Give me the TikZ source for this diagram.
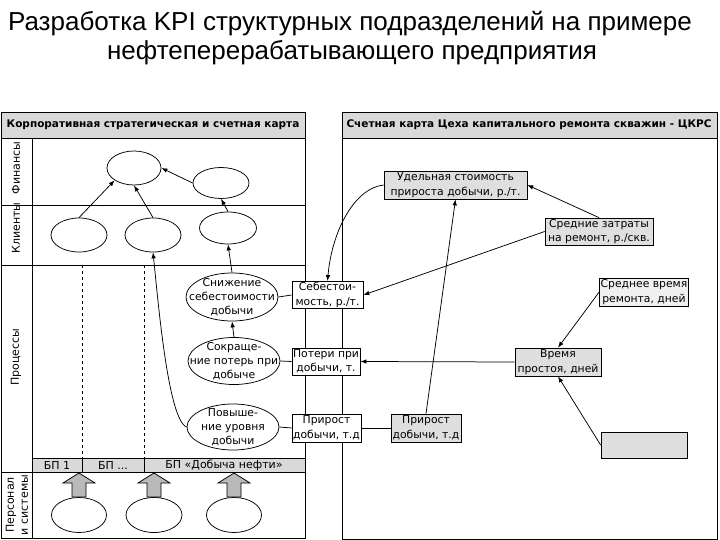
\documentclass[tikz,border=0pt]{standalone}
\usepackage{fontspec}
\usepackage{tikz}
\usetikzlibrary{shapes.geometric,arrows.meta}
\newfontfamily\titlefont{Liberation Sans}
\newfontfamily\kpifont{DejaVu Sans}

\begin{document}
\begin{tikzpicture} [
    x=1pt, y=-1pt, line width=0.75pt,
    >={Latex[length=6pt,width=4.5pt]},
    oval/.style={ellipse, draw, fill=white, inner sep=0pt, align=center, font=\kpifont\fontsize{10.8}{14}\selectfont},
    ovaltext/.style={oval, inner xsep=-12pt, inner ysep=-3pt},
    kpi/.style={rectangle, draw, fill=gray!25, inner sep=1pt, align=center, font=\kpifont\fontsize{10.8}{14.5}\selectfont},
    kpiw/.style={kpi, fill=white},
    band/.style={draw, fill=gray!30},
    header/.style={font=\kpifont\bfseries\fontsize{10.5}{12}\selectfont},
    rowlabel/.style={rotate=90, align=center, font=\kpifont\fontsize{11}{14}\selectfont},
    bp/.style={font=\kpifont\fontsize{11}{12}\selectfont}
]
\useasboundingbox (0,0) rectangle (720,540);

% Title
\node[font=\titlefont\fontsize{26}{30}\selectfont, anchor=base] (title) at (350,31) {Разработка KPI структурных подразделений на примере};
\node[font=\titlefont\fontsize{26}{30}\selectfont, anchor=base] (subtitle) at (352,60) {нефтеперерабатывающего предприятия};

% Panels
\draw (1,112) rectangle (305,538);
\draw[band] (1,112) rectangle (305,138);
\node[header] (corphead) at (153,125) {Корпоративная стратегическая и счетная карта};
\draw (342,112) rectangle (717,539);
\draw[band] (342,112) rectangle (717,138);
\node[header] (ckrshead) at (529,125) {Счетная карта Цеха капитального ремонта скважин - ЦКРС};

% Rows
\draw (32,138) -- (32,538);
\draw (1,205) -- (305,205);
\draw (1,265) -- (305,265);
\draw[dashed, line width=0.5pt] (82,265) -- (82,458);
\draw[dashed, line width=0.5pt] (144,265) -- (144,458);
\draw[band] (32,458) rectangle (305,472);
\draw (82,458) -- (82,472);
\draw (144,458) -- (144,472);
\draw (1,472) -- (305,472);
\node[rowlabel] (finlabel) at (16,168) {Финансы};
\node[rowlabel] (clilabel) at (16,228) {Клиенты};
\node[rowlabel] (proclabel) at (16,357) {Процессы};
\node[rowlabel] (perslabel) at (17,505) {Персонал\\и системы};
\node[bp] (bp1) at (57,465) {БП 1};
\node[bp] (bpdots) at (113,465) {БП ...};
\node[bp] (bpoil) at (224,465) {БП «Добыча нефти»};

% Corporate map
\node[oval, minimum width=54pt, minimum height=34pt] (fin1) at (134,168) {};
\node[oval, minimum width=56pt, minimum height=31pt] (fin2) at (221,183) {};
\node[oval, minimum width=56pt, minimum height=34pt] (cli1) at (79,235) {};
\node[oval, minimum width=56pt, minimum height=34pt] (cli2) at (153,235) {};
\node[oval, minimum width=57pt, minimum height=32pt] (cli3) at (228,228) {};
\node[ovaltext, minimum width=92pt, minimum height=48pt] (snizh) at (232,297) {Снижение\\себестоимости\\добычи};
\node[ovaltext, minimum width=92pt, minimum height=47pt] (sokr) at (234,361) {Сокраще-\\ние потерь при\\добыче};
\node[ovaltext, minimum width=92pt, minimum height=46pt] (povysh) at (233,427) {Повыше-\\ние уровня\\добычи};
\node[oval, minimum width=55pt, minimum height=35pt] (pers1) at (79,515) {};
\node[oval, minimum width=56pt, minimum height=35pt] (pers2) at (154,515) {};
\node[oval, minimum width=55pt, minimum height=35pt] (pers3) at (234,515) {};

% Support arrows
\draw[fill=gray!55] (72,497) -- (72,483) -- (63,483) -- (79,473) -- (95,483) -- (86,483) -- (86,497) -- cycle;
\draw[fill=gray!55] (147,497) -- (147,483) -- (138,483) -- (154,473) -- (170,483) -- (161,483) -- (161,497) -- cycle;
\draw[fill=gray!55] (227,497) -- (227,483) -- (218,483) -- (234,473) -- (250,483) -- (241,483) -- (241,497) -- cycle;

% Indicators
\node[kpiw, minimum width=71pt, minimum height=26pt] (sebest) at (327.5,295) {Себестои-\\мость, р./т.};
\node[kpiw, minimum width=68pt, minimum height=27pt] (poteri) at (326,361.5) {Потери при\\добычи, т.};
\node[kpiw, minimum width=69pt, minimum height=28pt] (prirost1) at (326.5,428) {Прирост\\добычи, т.д};
\node[kpi, minimum width=70pt, minimum height=28pt] (prirost2) at (426,428) {Прирост\\добычи, т.д};
\node[kpi, minimum width=143pt, minimum height=28pt] (udel) at (455.5,185) {Удельная стоимость\\прироста добычи, р./т.};
\node[kpi, minimum width=108pt, minimum height=27pt] (sredzat) at (599,231.5) {Средние затраты\\на ремонт, р./скв.};
\node[kpi, fill=gray!12, minimum width=86pt, minimum height=28pt] (sredvr) at (644,292) {Среднее время\\ремонта, дней};
\node[kpi, minimum width=86pt, minimum height=28pt] (vremya) at (558,362) {Время\\простоя, дней};
\node[kpi, minimum width=86pt, minimum height=26pt] (blank) at (644,445) {};

% Connections
\draw[->] (cli1.north) -- (fin1.south west);
\draw[->] (cli2.north) -- (fin1.south);
\draw[->] (fin2.west) -- (fin1.east);
\draw[->] (cli3.north) -- (fin2.south);
\draw[->] (snizh.north) -- (cli3.south);
\draw[->] (sokr.north) -- (snizh.south);
\draw[->] (povysh.west) .. controls (168,420) and (158,300) .. (cli2.south);
\draw (snizh.east) -- (sebest.west);
\draw (sokr.east) -- (poteri.west);
\draw (povysh.east) -- (prirost1.west);
\draw (prirost1.east) -- (prirost2.west);
\draw[->] (udel.west) .. controls (355,188) and (332,230) .. (sebest.north);
\draw[->] (sredzat.north) -- (udel.east);
\draw[->] (sredzat.west) -- (sebest.east);
\draw[->] (prirost2.north) -- (udel.south);
\draw[->] (vremya.west) -- (poteri.east);
\draw[->] (sredvr.west) -- (vremya.north);
\draw[->] (blank.west) -- (vremya.south);

\end{tikzpicture}
\end{document}
